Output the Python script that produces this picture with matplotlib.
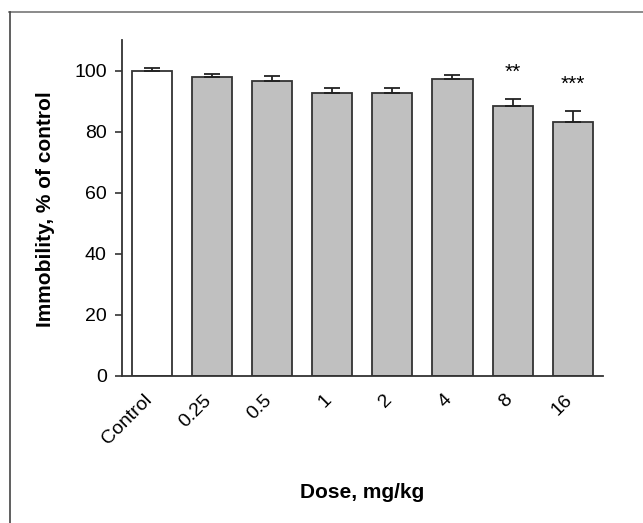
import matplotlib
matplotlib.use("Agg")
import matplotlib.pyplot as plt
import matplotlib.transforms as mtransforms
from matplotlib.lines import Line2D

# values
doses = ["Control", "0.25", "0.5", "1", "2", "4", "8", "16"]
immobility = [100.0, 97.9, 96.6, 92.5, 92.6, 97.3, 88.3, 83.0]
sem = [0.7, 1.1, 1.7, 1.9, 1.8, 1.3, 2.4, 3.8]
stars = ["", "", "", "", "", "", "**", "***"]
colors = ["white"] + ["#c0c0c0"] * 7

plt.rcParams['font.family'] = ['Liberation Sans', 'DejaVu Sans']

fig = plt.figure(figsize=(6.43, 5.23), dpi=100)
ax = fig.add_axes([0.1897, 0.2811, 0.9373 - 0.1897, 0.9235 - 0.2811])

x = list(range(len(doses)))
ax.bar(x, immobility, width=0.667, color=colors, edgecolor="#333333",
       linewidth=1.3, zorder=2)
ax.errorbar(x, immobility, yerr=[[0] * len(sem), sem], fmt="none",
            ecolor="#222222", elinewidth=1.3, capsize=5.5, capthick=1.3, zorder=3)

for xi, v, e, s in zip(x, immobility, sem, stars):
    if s:
        ax.text(xi, v + e + 8.8, s, ha="center", va="center", fontsize=15)

ax.set_xlim(-0.5, 7.5)
ax.set_ylim(0, 110)
ax.set_yticks([0, 20, 40, 60, 80, 100])
ax.set_xticks(x)
ax.set_xticklabels(doses, rotation=45, ha="right", rotation_mode="anchor")
ax.tick_params(axis="x", length=0, pad=9, labelsize=14)
ax.tick_params(axis="y", direction="out", length=5, width=1.2, color="#333333",
               labelsize=14, pad=6)

# nudge rotated labels down-left like the reference
shift = mtransforms.ScaledTranslation(-9 / 100, -3 / 100, fig.dpi_scale_trans)
for lab in ax.get_xticklabels():
    lab.set_transform(lab.get_transform() + shift)

for sp in ["top", "right"]:
    ax.spines[sp].set_visible(False)
for sp in ["left", "bottom"]:
    ax.spines[sp].set_color("#333333")
    ax.spines[sp].set_linewidth(1.3)

fig.text(0.070, 0.600, "Immobility, % of control", rotation=90, ha="center",
         va="center", fontsize=15, fontweight="bold")
fig.text(0.563, 0.0574, "Dose, mg/kg", ha="center", va="center",
         fontsize=15, fontweight="bold")

# outer frame (only top and left are visible in the reference)
fig.add_artist(Line2D([9 / 643, 1.0], [1 - 12 / 523, 1 - 12 / 523],
                      transform=fig.transFigure, color="#777777", linewidth=1.2))
fig.add_artist(Line2D([9.5 / 643, 9.5 / 643], [0, 1 - 12 / 523],
                      transform=fig.transFigure, color="#444444", linewidth=1.2))

fig.savefig("out.png", dpi=100)
